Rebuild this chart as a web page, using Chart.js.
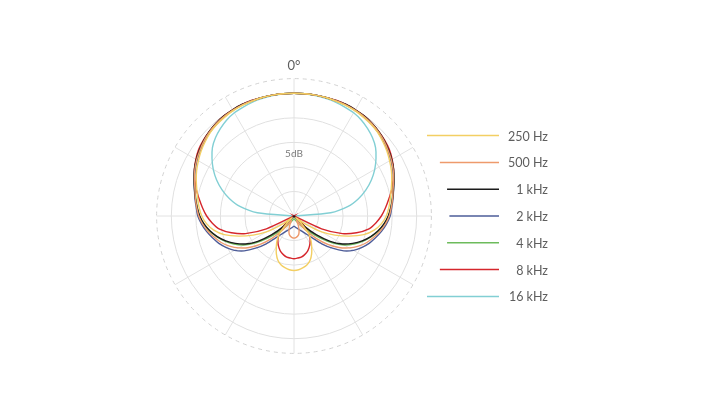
<!DOCTYPE html>
<html>
<head>
<meta charset="utf-8">
<script src="https://cdn.jsdelivr.net/npm/chart.js@4/dist/chart.umd.min.js"></script>
<style>
    body { margin: 0; background: #ffffff; }
    #wrap { width: 720px; height: 406px; }
</style>
</head>
<body>
<div id="wrap"><canvas id="polar-chart" width="720" height="406"></canvas></div>
<script>
// Angles around the capsule, 5 degree steps (0 = on axis, clockwise)
const angles = [];
for (let a = 0; a < 360; a += 5) angles.push(a + "°");

// Radial scale in dB
const dbMin = -25;
const dbMax = 3;
const dbStep = 5;

// Response in dB for 0..180 degrees (pattern is symmetric)
const hz250 = [0, 0, 0, 0, -0.1, -0.1, -0.2, -0.4, -0.6, -0.9, -1.4, -1.9, -2.5, -3.1, -3.8, -4.5, -5.1, -5.6, -6.2,
    -7.1, -8.4, -10.3, -13.0, -15.8, -18.5, -22.0, -24.5, -23.0, -20.5, -19.0, -17.8, -16.5, -15.4, -14.7, -14.3, -14.0, -13.9];
const hz500 = [0, 0, 0, 0, 0, 0, -0.1, -0.2, -0.4, -0.7, -1.1, -1.6, -2.1, -2.7, -3.4, -4.1, -4.6, -5.1, -5.6,
    -6.3, -7.2, -8.2, -9.2, -10.5, -12.0, -13.8, -16.0, -18.5, -21.0, -23.0, -24.0, -23.0, -22.0, -21.2, -20.8, -20.6, -20.5];
const hz1k = [0, 0, 0, 0, 0, 0.1, 0, -0.1, -0.3, -0.6, -1.0, -1.5, -2.0, -2.6, -3.3, -4.0, -4.6, -5.2, -5.8,
    -6.6, -7.6, -8.8, -10.2, -11.8, -13.6, -16.0, -19.0, -22.0, -25, -25, -25, -25, -25, -25, -25, -25, -25];
const hz2k = [0, 0, 0, 0, 0, 0, -0.1, -0.3, -0.5, -0.8, -1.2, -1.7, -2.2, -2.8, -3.4, -4.0, -4.5, -5.0, -5.4,
    -6.1, -6.9, -7.8, -8.7, -9.8, -11.0, -12.6, -14.8, -17.0, -19.2, -20.4, -21.2, -21.7, -22.1, -22.4, -22.6, -22.8, -22.9];
const hz4k = [0, 0, 0, 0, 0, 0, -0.1, -0.2, -0.4, -0.7, -1.1, -1.6, -2.1, -2.7, -3.4, -4.1, -4.7, -5.2, -5.7,
    -6.5, -7.5, -8.7, -10.0, -11.5, -13.2, -15.5, -18.0, -20.2, -21.8, -22.8, -23.4, -23.8, -24.0, -24.2, -24.3, -24.4, -24.4];
const hz8k = [0, 0, 0, 0, 0.1, 0.1, 0, -0.1, -0.3, -0.6, -0.9, -1.3, -1.9, -2.6, -3.5, -4.4, -5.4, -6.3, -7.2,
    -8.3, -9.6, -11.8, -14.5, -18.8, -25, -25, -23.5, -21.5, -20.3, -19.3, -18.5, -17.8, -17.2, -16.8, -16.5, -16.4, -16.3];
const hz16k = [0, 0, -0.1, -0.2, -0.3, -0.5, -0.7, -1.1, -1.7, -2.4, -3.3, -4.6, -6.0, -7.6, -9.4, -11.4, -13.8, -17.5, -25,
    -25, -25, -25, -25, -25, -25, -25, -25, -25, -25, -25, -25, -25, -25, -25, -25, -25, -25];

const seriesNames = ["250 Hz", "500 Hz", "1 kHz", "2 kHz", "4 kHz", "8 kHz", "16 kHz"];
const seriesData = [hz250, hz500, hz1k, hz2k, hz4k, hz8k, hz16k];
const seriesColors = ["#f3cf63", "#ee9a6c", "#1b1b1b", "#4d5c98", "#6dbb5c", "#d5262c", "#82cfd4"];

// left half mirrors the right half
function fullCircle(half) {
    return half.concat(half.slice(1, -1).reverse());
}

const textColor = "#5e5e5e";

const extrasPlugin = {
    id: "extras",
    afterDraw(chart) {
        const ctx = chart.ctx;
        const scale = chart.scales.r;
        const cx = scale.xCenter;
        const cy = scale.yCenter;

        // "5dB" note inside the grid
        const p = scale.getPointPositionForValue(0, -12.4);
        ctx.save();
        ctx.fillStyle = "#7a7a7a";
        ctx.font = "10px Lato";
        ctx.textAlign = "center";
        ctx.textBaseline = "middle";
        ctx.fillText("5dB", p.x, p.y);

        // legend on the right, line starts follow an arc round the plot
        const R = scale.drawingArea + 18;
        const rowGap = 26.8;
        ctx.font = "12.5px Lato";
        ctx.textAlign = "right";
        chart.data.datasets.forEach((ds, i) => {
            const dy = (i - 3) * rowGap;
            const y = cy + dy;
            const xStart = cx + Math.sqrt(R * R - dy * dy);
            const xEnd = cx + 205;
            ctx.strokeStyle = ds.borderColor;
            ctx.lineWidth = 1.5;
            ctx.beginPath();
            ctx.moveTo(xStart, y);
            ctx.lineTo(xEnd, y);
            ctx.stroke();
            ctx.fillStyle = textColor;
            ctx.fillText(ds.label, cx + 254, y + 1);
        });
        ctx.restore();
    },
};

const chartElement = document.getElementById("polar-chart");
const chartData = {
    labels: angles,
    datasets: seriesNames.map((name, i) => ({
        label: name,
        data: fullCircle(seriesData[i]),
        borderColor: seriesColors[i],
        borderWidth: 1.4,
        fill: false,
        pointRadius: 0,
        tension: 0.25,
    })),
};

new Chart(chartElement, {
    type: "radar",
    data: chartData,
    options: {
        responsive: false,
        animation: false,
        layout: {
            padding: { left: 134, right: 266, top: 59, bottom: 31 },
        },
        plugins: {
            legend: { display: false },
            tooltip: { enabled: false },
        },
        scales: {
            r: {
                min: dbMin,
                max: dbMax,
                ticks: { stepSize: dbStep, display: false },
                grid: {
                    circular: true,
                    color: (ctx) => (ctx.tick && ctx.tick.value === dbMax ? "#d2d2d2" : "#e0e0e0"),
                    lineWidth: 1,
                },
                border: {
                    dash: (ctx) => (ctx.tick && ctx.tick.value === dbMax ? [4, 4] : []),
                },
                angleLines: {
                    color: "#e2e2e2",
                    lineWidth: (ctx) => (ctx.index % 6 === 0 ? 1 : 0),
                },
                pointLabels: {
                    display: true,
                    padding: 5,
                    color: textColor,
                    font: { family: "Lato", size: 13 },
                    callback: (label, index) => (index === 0 ? "0°" : ""),
                },
            },
        },
    },
    plugins: [extrasPlugin],
});
</script>
</body>
</html>
